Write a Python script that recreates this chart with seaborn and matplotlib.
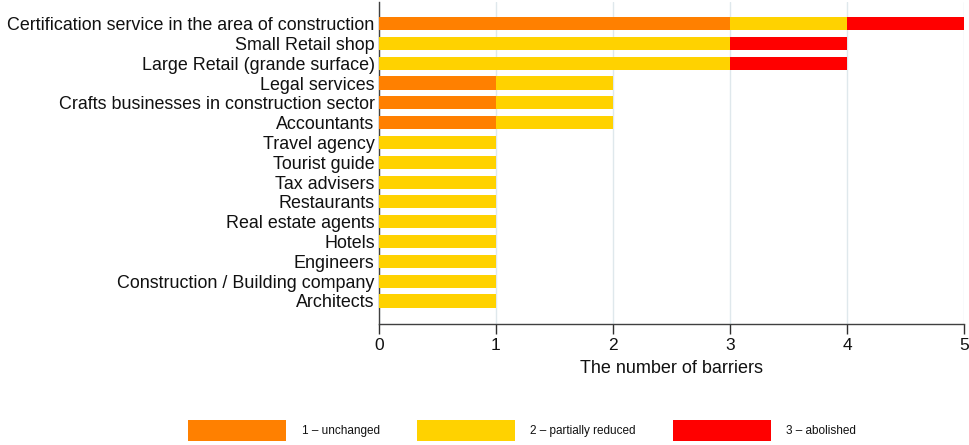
import matplotlib
matplotlib.use("Agg")
import matplotlib.pyplot as plt
import seaborn as sns
import pandas as pd
from matplotlib.patches import Patch

categories = [
    "Certification service in the area of construction",
    "Small Retail shop",
    "Large Retail (grande surface)",
    "Legal services",
    "Crafts businesses in construction sector",
    "Accountants",
    "Travel agency",
    "Tourist guide",
    "Tax advisers",
    "Restaurants",
    "Real estate agents",
    "Hotels",
    "Engineers",
    "Construction / Building company",
    "Architects",
]
unchanged = [3, 0, 0, 1, 1, 1, 0, 0, 0, 0, 0, 0, 0, 0, 0]
partially_reduced = [1, 3, 3, 1, 1, 1, 1, 1, 1, 1, 1, 1, 1, 1, 1]
abolished = [1, 1, 1, 0, 0, 0, 0, 0, 0, 0, 0, 0, 0, 0, 0]
series_labels = ["1 – unchanged", "2 – partially reduced", "3 – abolished"]
colors = ["#FF8000", "#FFD200", "#FF0000"]

df = pd.DataFrame({
    "category": categories,
    "s1": unchanged,
    "s2": partially_reduced,
    "s3": abolished,
})
df["c1"] = df["s1"]
df["c2"] = df["s1"] + df["s2"]
df["c3"] = df["c2"] + df["s3"]

sns.set_style("white")
plt.rcParams["font.family"] = ["Liberation Sans", "DejaVu Sans"]
plt.rcParams["text.color"] = "#111111"
plt.rcParams["xtick.color"] = "#111111"
plt.rcParams["ytick.color"] = "#111111"

fig = plt.figure(figsize=(9.69, 4.45), dpi=100)
ax = fig.add_axes([0.391, 0.272, 0.604, 0.724])

for col, color in zip(["c3", "c2", "c1"], [colors[2], colors[1], colors[0]]):
    sns.barplot(data=df, x=col, y="category", orient="h", color=color,
                width=0.66, saturation=1, ax=ax, linewidth=0, zorder=3)

ax.set_xlim(0, 5)
ax.set_ylim(len(categories) - 1 + 1.16, -1.1)
ax.set_xticks([0, 1, 2, 3, 4, 5])
ax.grid(axis="x", color="#dfe8ec", linewidth=1, zorder=0)
ax.set_axisbelow(True)
ax.set_xlabel("The number of barriers", fontsize=13, labelpad=5, color="#111111")
ax.set_ylabel("")
ax.tick_params(axis="x", labelsize=12.5, length=7, width=1, color="#303030", direction="out",
               bottom=True, pad=3, labelcolor="#111111")
ax.tick_params(axis="y", labelsize=12.85, length=0, pad=3, labelcolor="#111111")
for s in ["top", "right"]:
    ax.spines[s].set_visible(False)
for s in ["left", "bottom"]:
    ax.spines[s].set_color("#404040")
    ax.spines[s].set_linewidth(1)

handles = [Patch(facecolor=c, edgecolor="none") for c in colors]
fig.legend(handles, series_labels, loc="center", bbox_to_anchor=(0.539, 0.0325),
           ncol=3, frameon=False, fontsize=8.5, handlelength=8.3, handleheight=2.25,
           handletextpad=1.33, columnspacing=3.1, borderaxespad=0, borderpad=0)

fig.savefig("out.png", dpi=100)
